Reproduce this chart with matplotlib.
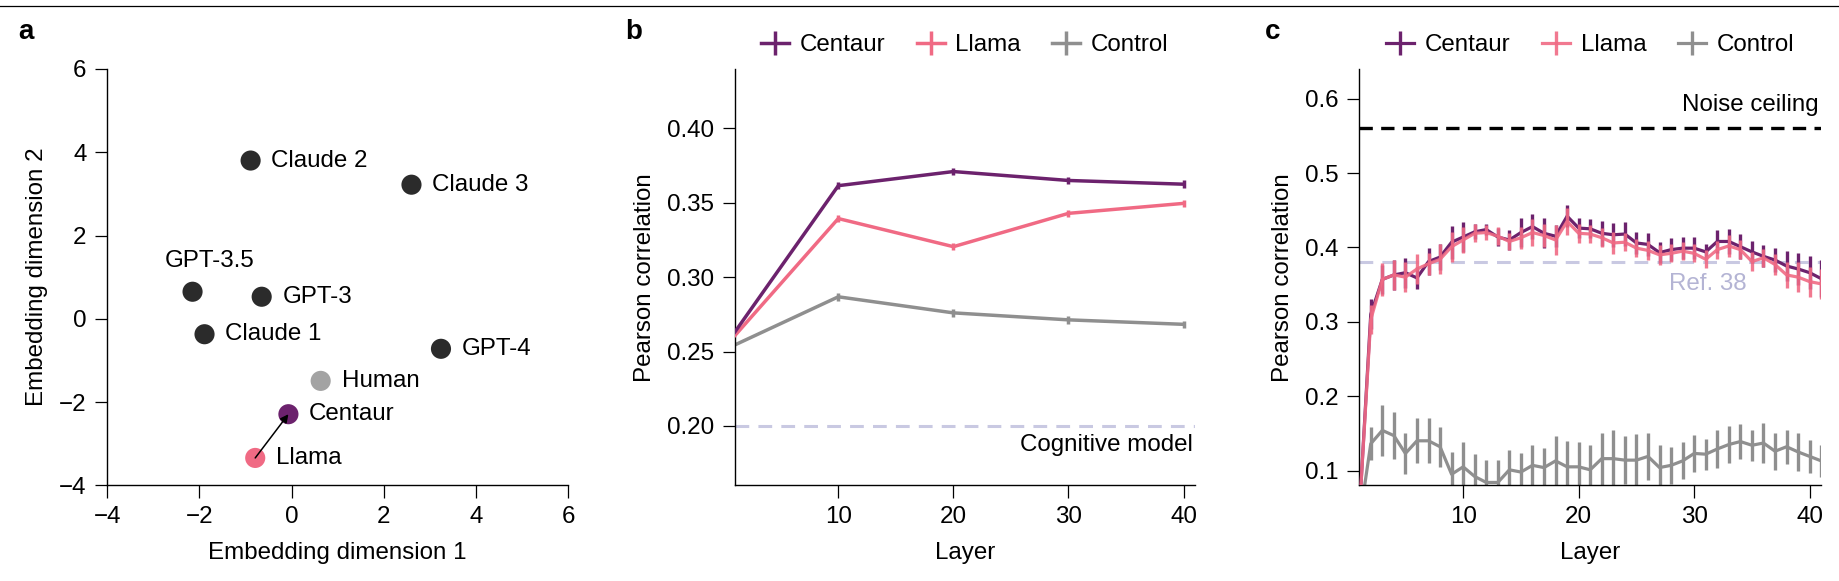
import matplotlib
matplotlib.use("Agg")
import matplotlib.pyplot as plt
import numpy as np
from matplotlib.lines import Line2D

plt.rcParams["font.family"] = ["Liberation Sans", "DejaVu Sans"]
plt.rcParams["font.size"] = 17.4

# ---------------- data ----------------
# panel a
models = ["Claude 2", "Claude 3", "GPT-3.5", "GPT-3", "Claude 1", "GPT-4", "Human", "Centaur", "Llama"]
emb_x = [-0.89, 2.60, -2.15, -0.65, -1.89, 3.24, 0.63, -0.07, -0.79]
emb_y = [3.80, 3.22, 0.65, 0.53, -0.37, -0.72, -1.49, -2.29, -3.34]

# panel b
layers_b = [1, 10, 20, 30, 40]
centaur_b = [0.263, 0.3615, 0.371, 0.365, 0.3625]
llama_b = [0.2606, 0.3394, 0.3205, 0.3429, 0.3496]
control_b = [0.2544, 0.2868, 0.276, 0.2713, 0.2683]
centaur_b_err = [0.0, 0.0025, 0.0025, 0.0025, 0.0025]
llama_b_err = [0.0, 0.0025, 0.0025, 0.0025, 0.0025]
control_b_err = [0.0, 0.0025, 0.0025, 0.0025, 0.0025]
cognitive_model_b = 0.20

# panel c
layers_c = list(range(1, 42))
centaur_c = [0.04, 0.31, 0.357, 0.363, 0.366, 0.359, 0.381, 0.387, 0.407, 0.414,
             0.421, 0.424, 0.414, 0.41, 0.42, 0.428, 0.419, 0.415, 0.442, 0.426,
             0.425, 0.419, 0.417, 0.418, 0.406, 0.404, 0.393, 0.397, 0.399, 0.399,
             0.394, 0.408, 0.408, 0.401, 0.394, 0.388, 0.383, 0.375, 0.371, 0.366,
             0.358]
centaur_c_err = [0.02, 0.02, 0.02, 0.02, 0.02, 0.015, 0.018, 0.018, 0.022, 0.02,
                 0.01, 0.007, 0.012, 0.013, 0.02, 0.017, 0.02, 0.015, 0.015, 0.013,
                 0.013, 0.017, 0.016, 0.016, 0.015, 0.016, 0.014, 0.015, 0.015, 0.015,
                 0.01, 0.015, 0.017, 0.017, 0.015, 0.015, 0.016, 0.02, 0.022, 0.022,
                 0.025]
llama_c = [0.04, 0.303, 0.357, 0.363, 0.36, 0.371, 0.378, 0.384, 0.401, 0.41,
           0.419, 0.42, 0.415, 0.408, 0.413, 0.42, 0.416, 0.41, 0.435, 0.419,
           0.418, 0.413, 0.406, 0.407, 0.399, 0.396, 0.39, 0.392, 0.395, 0.392,
           0.384, 0.397, 0.402, 0.397, 0.381, 0.386, 0.377, 0.363, 0.36, 0.354,
           0.351]
llama_c_err = [0.02, 0.02, 0.022, 0.02, 0.02, 0.02, 0.015, 0.02, 0.02, 0.018,
               0.012, 0.01, 0.012, 0.012, 0.015, 0.018, 0.015, 0.02, 0.018, 0.013,
               0.012, 0.013, 0.015, 0.012, 0.012, 0.013, 0.013, 0.012, 0.012, 0.012,
               0.012, 0.012, 0.015, 0.013, 0.013, 0.012, 0.014, 0.018, 0.02, 0.02,
               0.02]
control_c = [0.03, 0.136, 0.154, 0.147, 0.123, 0.14, 0.14, 0.132, 0.095, 0.105,
             0.092, 0.084, 0.084, 0.101, 0.098, 0.107, 0.104, 0.113, 0.105, 0.105,
             0.101, 0.116, 0.116, 0.114, 0.114, 0.119, 0.104, 0.107, 0.113, 0.123,
             0.122, 0.129, 0.135, 0.139, 0.134, 0.137, 0.126, 0.132, 0.125, 0.119,
             0.113]
control_c_err = [0.025, 0.022, 0.034, 0.032, 0.028, 0.03, 0.03, 0.027, 0.03, 0.034,
                 0.03, 0.03, 0.03, 0.027, 0.025, 0.027, 0.026, 0.034, 0.035, 0.034,
                 0.033, 0.035, 0.038, 0.032, 0.035, 0.032, 0.03, 0.025, 0.025, 0.025,
                 0.021, 0.025, 0.025, 0.024, 0.021, 0.027, 0.025, 0.023, 0.026, 0.022,
                 0.022]
noise_ceiling_c = 0.56
ref38_c = 0.38

# ---------------- style ----------------
C_CENT = "#6c226d"
C_LLAMA = "#f06a84"
C_CTRL = "#8f8f8f"
C_DARK = "#2b2b2b"
C_HUMAN = "#a3a3a3"
C_LAV = "#c9c9e2"
C_LAVTXT = "#b4b4d4"

fig = plt.figure(figsize=(18.4, 5.81), dpi=100)

def style_ax(ax):
    for s in ["top", "right"]:
        ax.spines[s].set_visible(False)
    for s in ["left", "bottom"]:
        ax.spines[s].set_linewidth(1.0)
    ax.tick_params(direction="out", length=9, width=0.9, pad=6, labelsize=17.4)

bottom, height = 0.1645, 0.7169
ax_a = fig.add_axes([0.0583, bottom, 0.2505, height])
ax_b = fig.add_axes([0.3993, bottom, 0.2502, height])
ax_c = fig.add_axes([0.7387, bottom, 0.2511, height])

# ---------------- panel a ----------------
style_ax(ax_a)
colors_a = [C_DARK] * 6 + [C_HUMAN, C_CENT, C_LLAMA]
ax_a.scatter(emb_x, emb_y, s=210, c=colors_a, zorder=3, linewidths=0)
for name, x, y in zip(models, emb_x, emb_y):
    if name == "GPT-3.5":
        ax_a.annotate(name, (x, y), xytext=(12, 22), textcoords="offset points",
                      ha="center", va="center", fontsize=17.4)
    else:
        ax_a.annotate(name, (x, y), xytext=(15, 0), textcoords="offset points",
                      ha="left", va="center", fontsize=17.4)
i_l, i_c = models.index("Llama"), models.index("Centaur")
ax_a.annotate("", xy=(emb_x[i_c], emb_y[i_c]), xytext=(emb_x[i_l], emb_y[i_l]),
              arrowprops=dict(arrowstyle="-|>", color="black", lw=1.1,
                              shrinkA=0, shrinkB=0, mutation_scale=12), zorder=4)
ax_a.set_xlim(-4, 6)
ax_a.set_ylim(-4, 6)
ax_a.set_xticks([-4, -2, 0, 2, 4, 6])
ax_a.set_yticks([-4, -2, 0, 2, 4, 6])
ax_a.set_xlabel("Embedding dimension 1", labelpad=10)
ax_a.set_ylabel("Embedding dimension 2", labelpad=8)

# ---------------- panel b ----------------
style_ax(ax_b)
ax_b.axhline(cognitive_model_b, color=C_LAV, lw=2.2, dashes=(4.5, 3), zorder=1)
ax_b.text(0.995, cognitive_model_b - 0.0125, "Cognitive model", transform=ax_b.get_yaxis_transform(),
          ha="right", va="center", fontsize=17.4)
eb_b = dict(lw=2.5, elinewidth=2.5, capsize=0)
hb_c = ax_b.errorbar(layers_b, centaur_b, yerr=centaur_b_err, color=C_CENT, zorder=4, **eb_b)
hb_l = ax_b.errorbar(layers_b, llama_b, yerr=llama_b_err, color=C_LLAMA, zorder=3, **eb_b)
hb_k = ax_b.errorbar(layers_b, control_b, yerr=control_b_err, color=C_CTRL, zorder=2, **eb_b)
ax_b.set_xlim(1, 41)
ax_b.set_ylim(0.16, 0.44)
ax_b.set_xticks([10, 20, 30, 40])
ax_b.set_yticks([0.20, 0.25, 0.30, 0.35, 0.40])
ax_b.set_yticklabels([f"{v:.2f}" for v in [0.20, 0.25, 0.30, 0.35, 0.40]])
ax_b.set_xlabel("Layer", labelpad=10)
ax_b.set_ylabel("Pearson correlation", labelpad=8)
ax_b.legend([hb_c, hb_l, hb_k], ["Centaur", "Llama", "Control"], loc="center",
            bbox_to_anchor=(0.5, 1.057), ncol=3, frameon=False, handlelength=1.15,
            handletextpad=0.45, columnspacing=1.3, fontsize=17.4, borderaxespad=0)

# ---------------- panel c ----------------
style_ax(ax_c)
eb_c = dict(lw=2.3, elinewidth=2.4, capsize=0)
ax_c.axhline(noise_ceiling_c, color="black", lw=2.4, dashes=(4, 2.5), zorder=1)
ax_c.text(0.995, noise_ceiling_c + 0.031, "Noise ceiling", transform=ax_c.get_yaxis_transform(),
          ha="right", va="center", fontsize=17.4)
ax_c.axhline(ref38_c, color=C_LAV, lw=2.2, dashes=(4.5, 3), zorder=1)
ax_c.text(31.2, ref38_c - 0.029, "Ref. 38", ha="center", va="center", color=C_LAVTXT, fontsize=17.4)
hc_k = ax_c.errorbar(layers_c, control_c, yerr=control_c_err, color=C_CTRL, zorder=2, **eb_c)
hc_c = ax_c.errorbar(layers_c, centaur_c, yerr=centaur_c_err, color=C_CENT, zorder=3, **eb_c)
hc_l = ax_c.errorbar(layers_c, llama_c, yerr=llama_c_err, color=C_LLAMA, zorder=4, alpha=0.9, **eb_c)
ax_c.set_xlim(1, 41)
ax_c.set_ylim(0.08, 0.64)
ax_c.set_xticks([10, 20, 30, 40])
ax_c.set_yticks([0.1, 0.2, 0.3, 0.4, 0.5, 0.6])
ax_c.set_yticklabels([f"{v:.1f}" for v in [0.1, 0.2, 0.3, 0.4, 0.5, 0.6]])
ax_c.set_xlabel("Layer", labelpad=10)
ax_c.set_ylabel("Pearson correlation", labelpad=8)
ax_c.legend([hc_c, hc_l, hc_k], ["Centaur", "Llama", "Control"], loc="center",
            bbox_to_anchor=(0.5, 1.057), ncol=3, frameon=False, handlelength=1.15,
            handletextpad=0.45, columnspacing=1.3, fontsize=17.4, borderaxespad=0)

# panel letters
for letter, x in [("a", 18), ("b", 625), ("c", 1265)]:
    fig.text(x / 1840, 1 - 39 / 581, letter, fontsize=20, fontweight="bold",
             ha="left", va="baseline")

# top rule
fig.add_artist(Line2D([0, 1], [1 - 6 / 581, 1 - 6 / 581], transform=fig.transFigure,
                      color="black", lw=0.9))

fig.savefig("out.png", dpi=100)
